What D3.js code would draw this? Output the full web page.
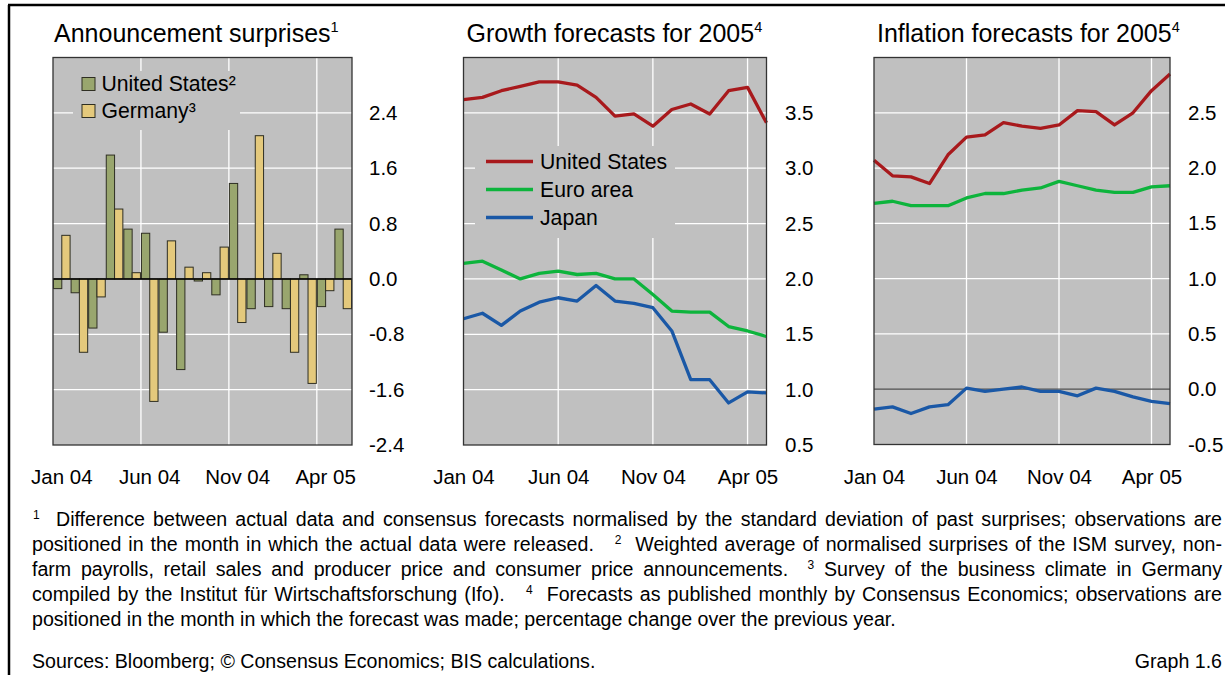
<!DOCTYPE html>
<html><head><meta charset="utf-8">
<script src="https://cdn.jsdelivr.net/npm/d3@7/dist/d3.min.js"></script>
<style>
body{margin:0;background:#fff;}
svg{font-family:"Liberation Sans",Arial,sans-serif;}
text{white-space:pre;}
</style></head>
<body>
<svg id="c" width="1225" height="675"></svg>
<script>
// ---------- DATA ----------
const months = ["Jan 04","Feb 04","Mar 04","Apr 04","May 04","Jun 04","Jul 04","Aug 04","Sep 04","Oct 04","Nov 04","Dec 04","Jan 05","Feb 05","Mar 05","Apr 05","May 05"];
const xTickLabels = ["Jan 04","Jun 04","Nov 04","Apr 05"];

const usSurprise = [-0.14,-0.20,-0.71,1.79,0.72,0.66,-0.77,-1.31,-0.03,-0.23,1.38,-0.43,-0.40,-0.43,0.06,-0.40,0.72];
const deSurprise = [0.63,-1.06,-0.26,1.01,0.09,-1.77,0.55,0.17,0.09,0.46,-0.63,2.07,0.37,-1.06,-1.51,-0.17,-0.43];
const surpriseTicks = [-2.4,-1.6,-0.8,0,0.8,1.6,2.4];

const growthUS = [3.62,3.64,3.70,3.74,3.78,3.78,3.75,3.64,3.47,3.49,3.38,3.53,3.58,3.49,3.70,3.73,3.41];
const growthEA = [2.14,2.16,2.08,2.00,2.05,2.07,2.04,2.05,2.00,2.00,1.86,1.71,1.70,1.70,1.57,1.53,1.48];
const growthJP = [1.64,1.69,1.58,1.71,1.79,1.83,1.80,1.94,1.80,1.78,1.74,1.53,1.09,1.09,0.88,0.98,0.97];
const growthTicks = [0.5,1.0,1.5,2.0,2.5,3.0,3.5];

const inflUS = [2.07,1.93,1.92,1.86,2.12,2.28,2.30,2.41,2.38,2.36,2.39,2.52,2.51,2.39,2.50,2.70,2.85];
const inflEA = [1.68,1.70,1.66,1.66,1.66,1.73,1.77,1.77,1.80,1.82,1.88,1.84,1.80,1.78,1.78,1.83,1.84];
const inflJP = [-0.18,-0.16,-0.22,-0.16,-0.14,0.01,-0.02,0.00,0.02,-0.02,-0.02,-0.06,0.01,-0.02,-0.07,-0.11,-0.13];
const inflTicks = [-0.5,0.0,0.5,1.0,1.5,2.0,2.5];

const lineSeries = ["United States","Euro area","Japan"];
const barSeries = ["United States²","Germany³"];

// ---------- STYLE ----------
const C = {bg:"#c0c0c0", grid:"#ffffff", red:"#a8191c", green:"#0db43c", blue:"#1a58a6",
  barG:"#99a66e", barY:"#e4c97c", barStroke:"#2e2e22", border:"#333333"};
const FS = 20.5;
const fmt = d => d3.format(".1f")(d).replace("\u2212","-");

const svg = d3.select("#c");

// figure border
svg.append("line").attr("x1",8).attr("x2",1225).attr("y1",5).attr("y2",5).attr("stroke","#000").attr("stroke-width",2.5);
svg.append("line").attr("x1",9).attr("x2",9).attr("y1",5).attr("y2",675).attr("stroke","#000").attr("stroke-width",2.5);

function title(x, txt, sup){
  const t = svg.append("text").attr("x",x).attr("y",42).attr("font-size",25).attr("fill","#000");
  t.append("tspan").text(txt);
  t.append("tspan").attr("font-size",14.5).attr("dy",-10).text(sup);
}

function frame(L,R,T,B){
  svg.append("rect").attr("x",L).attr("y",T).attr("width",R-L).attr("height",B-T).attr("fill",C.bg);
}
function yAxis(y, ticks, R, pad){
  const g = svg.append("g").attr("transform",`translate(${R},0)`)
    .call(d3.axisRight(y).tickValues(ticks).tickSize(0).tickPadding(pad).tickFormat(fmt));
  g.select(".domain").remove();
  g.selectAll("text").attr("font-size",FS).attr("font-family","Liberation Sans, Arial, sans-serif").attr("fill","#000");
}
function xAxis(x, B){
  const g = svg.append("g").attr("transform",`translate(0,${B})`)
    .call(d3.axisBottom(x).tickValues(xTickLabels).tickSize(0).tickPadding(24.5));
  g.select(".domain").remove();
  g.selectAll("text").attr("font-size",FS).attr("font-family","Liberation Sans, Arial, sans-serif").attr("fill","#000");
}
function hgrid(y, ticks, L, R, skip){
  svg.append("g").selectAll("line").data(ticks.filter(d=>!skip.includes(d))).join("line")
    .attr("x1",L).attr("x2",R).attr("y1",d=>y(d)).attr("y2",d=>y(d))
    .attr("stroke",C.grid).attr("stroke-width",1.3);
}
function vgrid(xs, T, B){
  svg.append("g").selectAll("line").data(xs).join("line")
    .attr("x1",d=>d).attr("x2",d=>d).attr("y1",T).attr("y2",B)
    .attr("stroke",C.grid).attr("stroke-width",1.3);
}
function border(L,R,T,B){
  svg.append("rect").attr("x",L).attr("y",T).attr("width",R-L).attr("height",B-T)
    .attr("fill","none").attr("stroke",C.border).attr("stroke-width",1.3);
}

// ---------- PANEL 1 : bars ----------
{
  const L=53,R=352,T=57.5,B=445;
  const x = d3.scaleBand().domain(months).range([L,R]).padding(0);
  const y = d3.scaleLinear().domain([-2.4,3.2]).range([B,T]);
  frame(L,R,T,B);
  hgrid(y, surpriseTicks, L, R, [0,-2.4]);
  vgrid(["Jun 04","Nov 04","Apr 05"].map(m=>x(m)), T, B);
  // legend mask
  svg.append("rect").attr("x",73).attr("y",71).attr("width",167).attr("height",59).attr("fill",C.bg);
  const bw = x.bandwidth()/2;
  const g = svg.append("g");
  g.selectAll(".us").data(usSurprise).join("rect")
    .attr("x",(d,i)=>x(months[i])+0.5).attr("width",bw-0.5)
    .attr("y",d=>y(Math.max(0,d))).attr("height",d=>Math.abs(y(d)-y(0)))
    .attr("fill",C.barG).attr("stroke",C.barStroke).attr("stroke-width",1);
  g.selectAll(".de").data(deSurprise).join("rect")
    .attr("x",(d,i)=>x(months[i])+bw).attr("width",bw-0.5)
    .attr("y",d=>y(Math.max(0,d))).attr("height",d=>Math.abs(y(d)-y(0)))
    .attr("fill",C.barY).attr("stroke",C.barStroke).attr("stroke-width",1);
  svg.append("line").attr("x1",L).attr("x2",R).attr("y1",y(0)).attr("y2",y(0)).attr("stroke","#000").attr("stroke-width",1.5);
  border(L,R,T,B);
  yAxis(y, surpriseTicks, R, 17);
  xAxis(x, B);
  // legend
  const lg = svg.append("g");
  [C.barG, C.barY].forEach((c,i)=>{
    lg.append("rect").attr("x",82).attr("y",77.5+i*27).attr("width",13).attr("height",13)
      .attr("fill",c).attr("stroke",C.barStroke).attr("stroke-width",1);
    lg.append("text").attr("x",101.5).attr("y",90.5+i*27).attr("font-size",21.2).text(barSeries[i]);
  });
  title(54, "Announcement surprises", "1");
}

// ---------- line panels ----------
function linePanel(L,R,T,B,dom,ticks,series,titleTxt,opts){
  const x = d3.scalePoint().domain(months).range([L,R]);
  const y = d3.scaleLinear().domain(dom).range([B,T]);
  frame(L,R,T,B);
  hgrid(y, ticks, L, R, opts.skip);
  vgrid(["Jun 04","Nov 04","Apr 05"].map(m=>x(m)), T, B);
  if(opts.legendBox){
    const b=opts.legendBox;
    svg.append("rect").attr("x",b[0]).attr("y",b[1]).attr("width",b[2]).attr("height",b[3]).attr("fill",C.bg);
  }
  if(opts.zero){
    svg.append("line").attr("x1",L).attr("x2",R).attr("y1",y(0)).attr("y2",y(0)).attr("stroke","#505050").attr("stroke-width",1.3);
  }
  const line = d3.line().x((d,i)=>x(months[i])).y(d=>y(d));
  series.forEach(s=>{
    svg.append("path").datum(s.v).attr("d",line).attr("fill","none")
      .attr("stroke",s.c).attr("stroke-width",3.3).attr("stroke-linejoin","round");
  });
  border(L,R,T,B);
  yAxis(y, ticks, R, opts.pad);
  xAxis(x, B);
  title(L+3, titleTxt, "4");
}

linePanel(463.5,766.5,57.5,445,[0.5,4.0],growthTicks,
  [{v:growthUS,c:C.red},{v:growthEA,c:C.green},{v:growthJP,c:C.blue}],
  "Growth forecasts for 2005", {skip:[0.5], legendBox:[475,146,200,92], pad:18.5});

// legend panel 2
{
  const cols=[C.red,C.green,C.blue];
  const ys=[161.5,189.5,217.5];
  lineSeries.forEach((s,i)=>{
    svg.append("line").attr("x1",486).attr("x2",533).attr("y1",ys[i]).attr("y2",ys[i]).attr("stroke",cols[i]).attr("stroke-width",3.3);
    svg.append("text").attr("x",540).attr("y",ys[i]+7).attr("font-size",21.2).text(s);
  });
}

linePanel(874,1170,57.5,444.5,[-0.5,3.0],inflTicks,
  [{v:inflUS,c:C.red},{v:inflEA,c:C.green},{v:inflJP,c:C.blue}],
  "Inflation forecasts for 2005", {skip:[-0.5,0], zero:true, pad:18});

// ---------- FOOTNOTES ----------
const FN = 19.6;
const notes = [
  {x:33, parts:[["1",true],["  Difference between actual data and consensus forecasts normalised by the standard deviation of past surprises; observations are",false]], just:true},
  {x:32, parts:[["positioned in the month in which the actual data were released.   ",false],["2",true],["  Weighted average of normalised surprises of the ISM survey, non-",false]], just:true},
  {x:32, parts:[["farm payrolls, retail sales and producer price and consumer price announcements.  ",false],["3",true],[" Survey of the business climate in Germany",false]], just:true},
  {x:32, parts:[["compiled by the Institut für Wirtschaftsforschung (Ifo).   ",false],["4",true],["  Forecasts as published monthly by Consensus Economics; observations are",false]], just:true},
  {x:32, parts:[["positioned in the month in which the forecast was made; percentage change over the previous year.",false]], just:false}
];
notes.forEach((n,i)=>{
  const t = svg.append("text").attr("x",n.x).attr("y",526+i*25).attr("font-size",FN).attr("fill","#000");
  let prevSup = false;
  n.parts.forEach(p=>{
    if(p[1]){ t.append("tspan").attr("font-size",12).attr("dy",-7).text(p[0]); prevSup = true; }
    else { t.append("tspan").attr("dy", prevSup ? 7 : 0).text(p[0]); prevSup = false; }
  });
  if(n.just){
    const len = t.node().getComputedTextLength();
    const spaces = (t.node().textContent.match(/ /g)||[]).length;
    t.attr("word-spacing", (1222 - n.x - len)/spaces);
  }
});
svg.append("text").attr("x",32).attr("y",668).attr("font-size",FN).text("Sources: Bloomberg; © Consensus Economics; BIS calculations.");
svg.append("text").attr("x",1222).attr("y",668).attr("font-size",FN).attr("text-anchor","end").text("Graph 1.6");
</script>
</body></html>
